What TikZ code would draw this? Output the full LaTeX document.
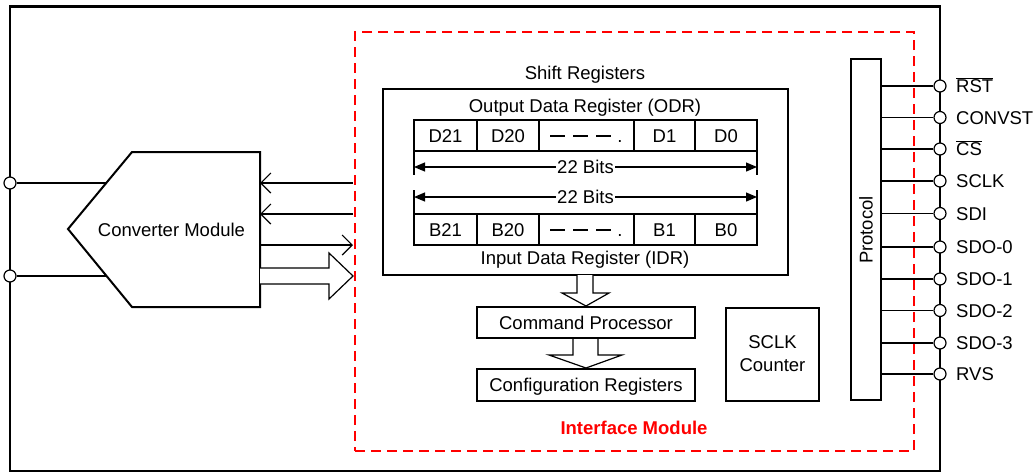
\documentclass[tikz,border=0pt]{standalone}
\usepackage{fontspec}
\setmainfont{Liberation Sans}
\usetikzlibrary{arrows.meta}
\begin{document}
\begin{tikzpicture}[x=1pt,y=-1pt,
  every node/.style={font=\fontsize{18.5}{23}\selectfont},
  txt/.style={inner sep=0pt, text height=13.2pt, text depth=0pt},
  boxa/.style={draw, line width=2pt, inner sep=0pt, text height=13.2pt, text depth=0pt},
  cell/.style={draw, line width=1.2pt, inner sep=0pt, minimum height=31pt, text height=13.2pt, text depth=0pt},
  wire/.style={line width=1.2pt},
  pinc/.style={circle, draw, line width=1.2pt, fill=white, minimum size=12pt, inner sep=0pt},
  barb/.style={wire, -{Straight Barb[length=10pt,width=20pt]}},
  dim/.style={wire, {Triangle[length=11pt,width=9pt]}-{Triangle[length=11pt,width=9pt]}},
  hollow/.style={draw, line width=1.2pt, fill=white, line join=miter}
]
\useasboundingbox (0,0) rectangle (1036,475);
\newcommand{\dashdots}{\rule[5.3pt]{15pt}{1.4pt}\hspace{8pt}\rule[5.3pt]{15pt}{1.4pt}\hspace{8pt}\rule[5.3pt]{15pt}{1.4pt}\hspace{6pt}.}

% outer chip boundary
\node[draw, line width=2.5pt, minimum width=930pt, minimum height=464.5pt, inner sep=0pt] (chip) at (475,238.75) {};

% interface module (dashed red)
\node[draw=red, line width=2.5pt, dash pattern=on 10pt off 6pt, minimum width=559pt, minimum height=419pt, inner sep=0pt] (iface) at (634.5,241.5) {};
\node[anchor=base, inner sep=0pt, text=red, font=\bfseries\fontsize{18.5}{23}\selectfont] (ifl) at (634,434.6) {Interface Module};

% converter module
\draw[line width=2pt, line join=miter] (132,152) -- (260,152) -- (260,307) -- (132,307) -- (68,229) -- cycle;
\node[txt] (conv) at (171.5,230) {Converter Module};

% left pins
\node[pinc] (L1) at (10,183) {};
\node[pinc] (L2) at (10,276) {};
\coordinate (cin1) at (106,183);
\coordinate (cin2) at (106.6,276);
\draw[wire] (L1) -- (cin1);
\draw[wire] (L2) -- (cin2);

% converter <-> interface arrows
\coordinate (ia1) at (353,183); \coordinate (ca1) at (260,183);
\coordinate (ia2) at (353,214); \coordinate (ca2) at (260,214);
\coordinate (ca3) at (260,245); \coordinate (ia3) at (353,245);
\draw[barb] (ia1) -- (ca1);
\draw[barb] (ia2) -- (ca2);
\draw[barb] (ca3) -- (ia3);
\draw[hollow] (260,268) -- (329,268) -- (329,253) -- (353,276) -- (329,299) -- (329,284) -- (260,284);

% shift registers
\node[anchor=base, inner sep=0pt] (shl) at (585,79.3) {Shift Registers};
\node[boxa, minimum width=405pt, minimum height=186pt] (shift) at (585.5,182) {};
\node[anchor=base, inner sep=0pt] (odrl) at (585,112) {Output Data Register (ODR)};
\node[anchor=base, inner sep=0pt] (idrl) at (585,264) {Input Data Register (IDR)};

% ODR cells
\node[cell, minimum width=63pt] (d21) at (445.5,135.5) {D21};
\node[cell, minimum width=62pt] (d20) at (508,135.5) {D20};
\node[cell, minimum width=95pt] (dd) at (586.5,135.5) {\dashdots};
\node[cell, minimum width=61pt] (d1) at (664.5,135.5) {D1};
\node[cell, minimum width=62pt] (d0) at (726,135.5) {D0};

% IDR cells
\node[cell, minimum width=63pt] (b21) at (445.5,229.5) {B21};
\node[cell, minimum width=62pt] (b20) at (508,229.5) {B20};
\node[cell, minimum width=95pt] (bd) at (586.5,229.5) {\dashdots};
\node[cell, minimum width=61pt] (b1) at (664.5,229.5) {B1};
\node[cell, minimum width=62pt] (b0) at (726,229.5) {B0};

% dimension lines
\draw[wire] (414,151) -- (414,175);
\draw[wire] (757,151) -- (757,175);
\draw[wire] (414,190) -- (414,214);
\draw[wire] (757,190) -- (757,214);
\coordinate (da1) at (414,167); \coordinate (db1) at (757,167);
\coordinate (da2) at (414,197); \coordinate (db2) at (757,197);
\draw[dim] (da1) -- node[fill=white, inner sep=1pt, text height=13.2pt, text depth=0pt] (bits1) {22 Bits} (db1);
\draw[dim] (da2) -- node[fill=white, inner sep=1pt, text height=13.2pt, text depth=0pt] (bits2) {22 Bits} (db2);

% hollow down arrows
\draw[hollow] (577,275) -- (577,293) -- (562,293) -- (586,306) -- (609,293) -- (593,293) -- (593,275);
\draw[hollow] (573,338) -- (573,355) -- (549,355) -- (586,368) -- (622,355) -- (598,355) -- (598,338);

% command processor / configuration registers
\node[boxa, minimum width=218pt, minimum height=31pt] (cmd) at (586,322.5) {Command Processor};
\node[boxa, minimum width=218pt, minimum height=32pt] (cfg) at (586,385) {Configuration Registers};

% SCLK counter
\node[draw, line width=2pt, minimum width=93pt, minimum height=93pt, inner sep=0pt, align=center] (sclk) at (772.5,354) {SCLK\\Counter};

% protocol block
\node[draw, line width=2pt, minimum width=30pt, minimum height=341pt, inner sep=0pt] (proto) at (866,229.5) {};
\node[txt, rotate=90] (protol) at (866,230) {Protocol};

% right pins
\foreach \y/\n/\t in {86/p1/{$\overline{\mbox{RST}}$}, 117.5/p2/{CONVST}, 149/p3/{$\overline{\mbox{CS}}$}, 181/p4/{SCLK}, 213.5/p5/{SDI}, 247/p6/{SDO-0}, 279/p7/{SDO-1}, 310.5/p8/{SDO-2}, 343/p9/{SDO-3}, 374/p10/{RVS}}{
  \node[pinc] (\n) at (940,\y) {};
  \draw[wire] (\n -| proto.east) -- (\n);
  \node[anchor=base west, inner sep=0pt] (\n l) at (956,\y+6.6) {\t};
}
\end{tikzpicture}
\end{document}
